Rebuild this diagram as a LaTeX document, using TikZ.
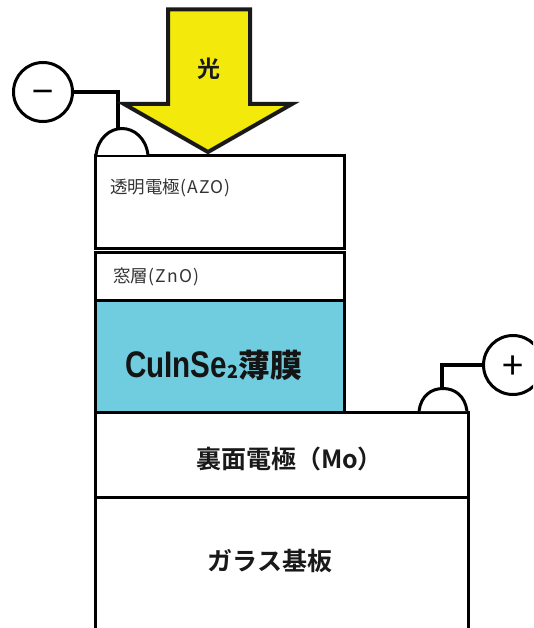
\documentclass[tikz,border=0pt]{standalone}
\usepackage{fontspec}
\setmainfont{Noto Sans CJK JP}
\newfontfamily\jpb{Noto Sans CJK JP Bold}
\newfontfamily\narrowb[FakeStretch=0.8]{Liberation Sans}
\newfontfamily\widelatin[LetterSpace=7]{Noto Sans CJK JP}
\definecolor{cellcyan}{RGB}{112,205,223}
\definecolor{lightyellow}{RGB}{243,234,12}
\tikzset{
  layer/.style={draw=black,line width=3pt,line join=miter},
  wire/.style={draw=black,line width=3.2pt},
  term/.style={draw=black,line width=3pt,circle,fill=white,minimum size=59pt,inner sep=0pt,font=\fontsize{38}{38}\selectfont},
  bump/.style={draw=black,line width=3pt,fill=white},
  thin/.style={font=\fontsize{17.5}{20}\selectfont,text=black!80},
  boldlabel/.style={font=\jpb\fontsize{25}{28}\selectfont,text=black!90}
}
\begin{document}
\begin{tikzpicture}[x=1pt,y=-1pt]
\useasboundingbox (0,0) rectangle (533,628);
\clip (0,0) rectangle (533,628);
% layers
\draw[layer] (95,155.5) rectangle (344,248.5);
\draw[layer] (95,252) rectangle (344,300);
\draw[layer,fill=cellcyan] (95,300) rectangle (344,412);
\draw[layer] (95,412) rectangle (468,497);
\draw[layer] (95,497) rectangle (468,632);
% bumps
\draw[bump] (96,155) .. controls (98,138) and (110,128.5) .. (122,128.5) .. controls (134,128.5) and (146,138) .. (148,155);
\draw[bump] (419,411) .. controls (421,396) and (431,388.5) .. (443,388.5) .. controls (455,388.5) and (465,396) .. (467,411);
% terminals
\node[term] (minus) at (43,92) {\raisebox{-14pt}[0pt][0pt]{−}};
\node[term] (plus) at (513,365) {\raisebox{-14pt}[0pt][0pt]{+}};
\coordinate (bumpA) at (118,128);
\coordinate (bumpB) at (442,388);
\draw[wire] (minus.east) -| (bumpA);
\draw[wire] (plus.west) -| (bumpB);
% arrow
\draw[draw=black!90,line width=4pt,fill=lightyellow,line join=miter,miter limit=10]
 (168,9.5) -- (250,9.5) -- (250,104) -- (292,104) -- (208,152) -- (124,104) -- (168,104) -- cycle;
% labels
\node[font=\jpb\fontsize{23}{26}\selectfont,text=black!90] (light) at (208.5,69) {光};
\node[thin,anchor=west,inner sep=0pt] (azo) at (110,187.5) {透明電極{\widelatin(AZO)}};
\node[thin,anchor=west,inner sep=0pt] (zno) at (113,277) {窓層{\widelatin(ZnO)}};
\node[anchor=west,inner sep=0pt,text=black!92] (cis) at (125,365) {\narrowb\bfseries\fontsize{37}{40}\selectfont CuInSe\raisebox{-1pt}{\jpb\fontsize{18}{18}\selectfont 2}\jpb\fontsize{32}{34}\selectfont 薄膜};
\node[boldlabel] (mo) at (289.5,459) {裏面電極（Mo）};
\node[boldlabel] (glass) at (270,561) {ガラス基板};
\end{tikzpicture}
\end{document}
